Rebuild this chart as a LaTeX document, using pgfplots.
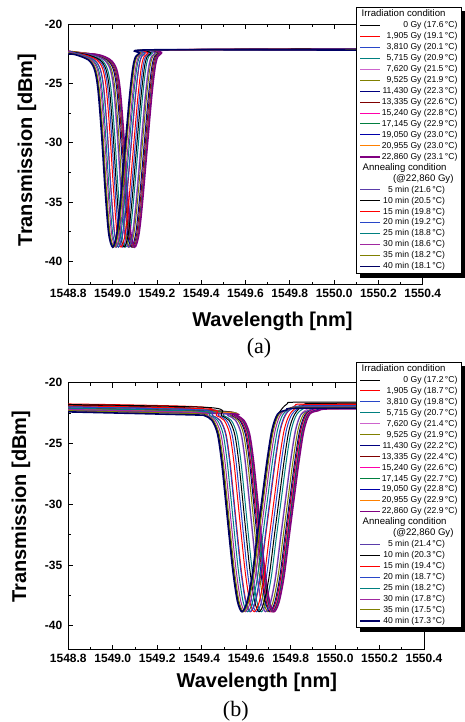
\documentclass[border=0pt]{standalone}
\usepackage{fontspec}
\setmainfont{Liberation Sans}
\newfontfamily\capfont{Liberation Serif}
\usepackage{pgfplots}
\pgfplotsset{compat=1.18}
\definecolor{cRed}{RGB}{255,0,0}
\definecolor{cBlue}{RGB}{40,70,200}
\definecolor{cTeal}{RGB}{0,128,128}
\definecolor{cOrchid}{RGB}{205,100,205}
\definecolor{cOlive}{RGB}{128,128,0}
\definecolor{cNavy}{RGB}{0,0,128}
\definecolor{cWine}{RGB}{128,0,0}
\definecolor{cPink}{RGB}{255,0,170}
\definecolor{cGreen}{RGB}{0,128,64}
\definecolor{cRoyal}{RGB}{0,0,170}
\definecolor{cOrange}{RGB}{255,128,0}
\definecolor{cPurple}{RGB}{128,0,128}
\definecolor{cViolet}{RGB}{90,60,170}
\definecolor{cMag}{RGB}{160,40,160}
\definecolor{cDNavy}{RGB}{0,0,100}
\newcommand\an[1]{#1\hspace*{12.5pt}}
\newcommand\hd[2]{\makebox[0pt][r]{\fontsize{9.6}{9}\selectfont #2\hspace*{#1}}}
\newcommand\labfont{\bfseries\fontsize{20}{20}\selectfont}
\pgfplotsset{
  lw/.style={line width=1pt, smooth, tension=0.5},
  lt/.style={line width=1.6pt, smooth, tension=0.5},
  panel/.style={
    scale only axis, width=354.4pt,
    xmin=1548.8, xmax=1550.4, ymin=-42, ymax=-20,
    scaled x ticks=false, scaled y ticks=false,
    xtick={1548.8,1549.0,1549.2,1549.4,1549.6,1549.8,1550.0,1550.2,1550.4},
    xticklabels={1548.8,1549.0,1549.2,1549.4,1549.6,1549.8,1550.0,1550.2,1550.4},
    ytick={-40,-35,-30,-25,-20},
    yticklabels={-40,-35,-30,-25,-20},
    minor x tick num=1, minor y tick num=1,
    tick align=inside,
    major tick length=5pt, minor tick length=3pt,
    every tick/.style={black, line width=0.8pt},
    axis line style={line width=1pt},
    ticklabel style={font=\bfseries\fontsize{12}{12}\selectfont},
    yticklabel style={xshift=-2.5pt},
    xticklabel style={yshift=-1pt},
    xlabel={\labfont Wavelength [nm]}, ylabel={\labfont Transmission [dBm]},
    every axis x label/.style={anchor=base},
    every axis y label/.style={rotate=90, anchor=center},
    no markers,
    legend cell align=right,
    legend image code/.code={\draw[##1] (0pt,0pt) -- (20pt,0pt);},
    legend style={anchor=north east, draw=black, fill=white, line width=0.8pt,
      inner xsep=3pt, inner ysep=1.5pt, row sep=0pt, column sep=0pt,
      font=\fontsize{8.6}{9}\selectfont,
      nodes={inner xsep=0.8pt, inner ysep=0.75pt, text height=7.2pt, text depth=2.25pt}},
  }
}
\begin{document}
\begin{tikzpicture}
\useasboundingbox (0,0) rectangle (465pt,722pt);
% ---------------- panel (a) ----------------
\begin{axis}[panel, at={(68.3pt,437pt)}, anchor=south west, height=260.7pt,
  xlabel style={at={(axis description cs:0.576,-0.16)}},
  ylabel style={at={(axis description cs:-0.1165,0.518)}},
  legend style={at={(axis description cs:1.110,1.066)}, name=legA}]
\addlegendimage{empty legend}\addlegendentry{\hd{12pt}{Irradiation condition}}
\addplot[black,lw] coordinates {(1548.8,-22.35)(1548.833,-22.55)(1548.893,-23.00)(1548.921,-23.80)(1548.937,-25.50)(1548.953,-29.20)(1548.969,-33.90)(1548.985,-37.60)(1549.003,-38.80)(1549.021,-37.80)(1549.037,-35.20)(1549.061,-30.00)(1549.081,-25.80)(1549.099,-23.20)(1549.123,-22.45)(1549.203,-22.15)(1550.4,-22.10)};
\addlegendentry{0 Gy (17.6\,°C)}
\addplot[cRed,lw] coordinates {(1548.8,-22.25)(1548.857,-22.55)(1548.917,-23.00)(1548.945,-23.80)(1548.961,-25.50)(1548.977,-29.20)(1548.993,-33.90)(1549.009,-37.60)(1549.027,-38.80)(1549.045,-37.80)(1549.061,-35.20)(1549.085,-30.00)(1549.105,-25.80)(1549.123,-23.20)(1549.147,-22.45)(1549.227,-22.15)(1550.4,-22.05)};
\addlegendentry{1,905 Gy (19.1\,°C)}
\addplot[cBlue,lw] coordinates {(1548.8,-22.40)(1548.875,-22.55)(1548.935,-23.00)(1548.963,-23.80)(1548.979,-25.50)(1548.995,-29.20)(1549.011,-33.90)(1549.027,-37.60)(1549.045,-38.80)(1549.063,-37.80)(1549.079,-35.20)(1549.103,-30.00)(1549.123,-25.80)(1549.141,-23.20)(1549.165,-22.45)(1549.245,-22.15)(1550.4,-22.15)};
\addlegendentry{3,810 Gy (20.1\,°C)}
\addplot[cTeal,lw] coordinates {(1548.8,-22.30)(1548.889,-22.55)(1548.949,-23.00)(1548.977,-23.80)(1548.993,-25.50)(1549.009,-29.20)(1549.025,-33.90)(1549.041,-37.60)(1549.059,-38.80)(1549.077,-37.80)(1549.093,-35.20)(1549.117,-30.00)(1549.137,-25.80)(1549.155,-23.20)(1549.179,-22.45)(1549.259,-22.15)(1550.4,-22.10)};
\addlegendentry{5,715 Gy (20.9\,°C)}
\addplot[cOrchid,lw] coordinates {(1548.8,-22.45)(1548.900,-22.55)(1548.960,-23.00)(1548.988,-23.80)(1549.004,-25.50)(1549.020,-29.20)(1549.036,-33.90)(1549.052,-37.60)(1549.070,-38.80)(1549.088,-37.80)(1549.104,-35.20)(1549.128,-30.00)(1549.148,-25.80)(1549.166,-23.20)(1549.190,-22.45)(1549.270,-22.15)(1550.4,-22.20)};
\addlegendentry{7,620 Gy (21.5\,°C)}
\addplot[cOlive,lw] coordinates {(1548.8,-22.30)(1548.907,-22.55)(1548.967,-23.00)(1548.995,-23.80)(1549.011,-25.50)(1549.027,-29.20)(1549.043,-33.90)(1549.059,-37.60)(1549.077,-38.80)(1549.095,-37.80)(1549.111,-35.20)(1549.135,-30.00)(1549.155,-25.80)(1549.173,-23.20)(1549.197,-22.45)(1549.277,-22.15)(1550.4,-22.10)};
\addlegendentry{9,525 Gy (21.9\,°C)}
\addplot[cNavy,lw] coordinates {(1548.8,-22.40)(1548.915,-22.55)(1548.975,-23.00)(1549.003,-23.80)(1549.019,-25.50)(1549.035,-29.20)(1549.051,-33.90)(1549.067,-37.60)(1549.085,-38.80)(1549.103,-37.80)(1549.119,-35.20)(1549.143,-30.00)(1549.163,-25.80)(1549.181,-23.20)(1549.205,-22.45)(1549.285,-22.15)(1550.4,-22.15)};
\addlegendentry{11,430 Gy (22.3\,°C)}
\addplot[cWine,lw] coordinates {(1548.8,-22.25)(1548.920,-22.55)(1548.980,-23.00)(1549.008,-23.80)(1549.024,-25.50)(1549.040,-29.20)(1549.056,-33.90)(1549.072,-37.60)(1549.090,-38.80)(1549.108,-37.80)(1549.124,-35.20)(1549.148,-30.00)(1549.168,-25.80)(1549.186,-23.20)(1549.210,-22.45)(1549.290,-22.15)(1550.4,-22.05)};
\addlegendentry{13,335 Gy (22.6\,°C)}
\addplot[cPink,lw] coordinates {(1548.8,-22.35)(1548.924,-22.55)(1548.984,-23.00)(1549.012,-23.80)(1549.028,-25.50)(1549.044,-29.20)(1549.060,-33.90)(1549.076,-37.60)(1549.094,-38.80)(1549.112,-37.80)(1549.128,-35.20)(1549.152,-30.00)(1549.172,-25.80)(1549.190,-23.20)(1549.214,-22.45)(1549.294,-22.15)(1550.4,-22.10)};
\addlegendentry{15,240 Gy (22.8\,°C)}
\addplot[cGreen,lw] coordinates {(1548.8,-22.30)(1548.925,-22.55)(1548.985,-23.00)(1549.013,-23.80)(1549.029,-25.50)(1549.045,-29.20)(1549.061,-33.90)(1549.077,-37.60)(1549.095,-38.80)(1549.113,-37.80)(1549.129,-35.20)(1549.153,-30.00)(1549.173,-25.80)(1549.191,-23.20)(1549.215,-22.45)(1549.295,-22.15)(1550.4,-22.15)};
\addlegendentry{17,145 Gy (22.9\,°C)}
\addplot[cRoyal,lw] coordinates {(1548.8,-22.45)(1548.927,-22.55)(1548.987,-23.00)(1549.015,-23.80)(1549.031,-25.50)(1549.047,-29.20)(1549.063,-33.90)(1549.079,-37.60)(1549.097,-38.80)(1549.115,-37.80)(1549.131,-35.20)(1549.155,-30.00)(1549.175,-25.80)(1549.193,-23.20)(1549.217,-22.45)(1549.297,-22.15)(1550.4,-22.20)};
\addlegendentry{19,050 Gy (23.0\,°C)}
\addplot[cOrange,lw] coordinates {(1548.8,-22.30)(1548.928,-22.55)(1548.988,-23.00)(1549.016,-23.80)(1549.032,-25.50)(1549.048,-29.20)(1549.064,-33.90)(1549.080,-37.60)(1549.098,-38.80)(1549.116,-37.80)(1549.132,-35.20)(1549.156,-30.00)(1549.176,-25.80)(1549.194,-23.20)(1549.218,-22.45)(1549.298,-22.15)(1550.4,-22.10)};
\addlegendentry{20,955 Gy (23.0\,°C)}
\addplot[cPurple,lt] coordinates {(1548.8,-22.40)(1548.930,-22.55)(1548.990,-23.00)(1549.018,-23.80)(1549.034,-25.50)(1549.050,-29.20)(1549.066,-33.90)(1549.082,-37.60)(1549.100,-38.80)(1549.118,-37.80)(1549.134,-35.20)(1549.158,-30.00)(1549.178,-25.80)(1549.196,-23.20)(1549.220,-22.45)(1549.300,-22.15)(1550.4,-22.15)};
\addlegendentry{22,860 Gy (23.1\,°C)}
\addlegendimage{empty legend}\addlegendentry{\hd{11pt}{Annealing condition}}
\addlegendimage{empty legend}\addlegendentry{\hd{4pt}{(@22,860 Gy)}}
\addplot[cViolet,lw] coordinates {(1548.8,-22.35)(1548.902,-22.55)(1548.962,-23.00)(1548.990,-23.80)(1549.006,-25.50)(1549.022,-29.20)(1549.038,-33.90)(1549.054,-37.60)(1549.072,-38.80)(1549.090,-37.80)(1549.106,-35.20)(1549.130,-30.00)(1549.150,-25.80)(1549.168,-23.20)(1549.192,-22.45)(1549.272,-22.15)(1550.4,-22.10)};
\addlegendentry{\an{5 min (21.6\,°C)}}
\addplot[black,lw] coordinates {(1548.8,-22.30)(1548.882,-22.55)(1548.942,-23.00)(1548.970,-23.80)(1548.986,-25.50)(1549.002,-29.20)(1549.018,-33.90)(1549.034,-37.60)(1549.052,-38.80)(1549.070,-37.80)(1549.086,-35.20)(1549.110,-30.00)(1549.130,-25.80)(1549.148,-23.20)(1549.172,-22.45)(1549.252,-22.15)(1550.4,-22.05)};
\addlegendentry{\an{10 min (20.5\,°C)}}
\addplot[cRed,lw] coordinates {(1548.8,-22.40)(1548.868,-22.55)(1548.928,-23.00)(1548.956,-23.80)(1548.972,-25.50)(1548.988,-29.20)(1549.004,-33.90)(1549.020,-37.60)(1549.038,-38.80)(1549.056,-37.80)(1549.072,-35.20)(1549.096,-30.00)(1549.116,-25.80)(1549.134,-23.20)(1549.158,-22.45)(1549.238,-22.15)(1550.4,-22.15)};
\addlegendentry{\an{15 min (19.8\,°C)}}
\addplot[cBlue,lw] coordinates {(1548.8,-22.25)(1548.856,-22.55)(1548.916,-23.00)(1548.944,-23.80)(1548.960,-25.50)(1548.976,-29.20)(1548.992,-33.90)(1549.008,-37.60)(1549.026,-38.80)(1549.044,-37.80)(1549.060,-35.20)(1549.084,-30.00)(1549.104,-25.80)(1549.122,-23.20)(1549.146,-22.45)(1549.226,-22.15)(1550.4,-22.10)};
\addlegendentry{\an{20 min (19.2\,°C)}}
\addplot[cTeal,lw] coordinates {(1548.8,-22.35)(1548.848,-22.55)(1548.908,-23.00)(1548.936,-23.80)(1548.952,-25.50)(1548.968,-29.20)(1548.984,-33.90)(1549.000,-37.60)(1549.018,-38.80)(1549.036,-37.80)(1549.052,-35.20)(1549.076,-30.00)(1549.096,-25.80)(1549.114,-23.20)(1549.138,-22.45)(1549.218,-22.15)(1550.4,-22.15)};
\addlegendentry{\an{25 min (18.8\,°C)}}
\addplot[cMag,lw] coordinates {(1548.8,-22.30)(1548.843,-22.55)(1548.903,-23.00)(1548.931,-23.80)(1548.947,-25.50)(1548.963,-29.20)(1548.979,-33.90)(1548.995,-37.60)(1549.013,-38.80)(1549.031,-37.80)(1549.047,-35.20)(1549.071,-30.00)(1549.091,-25.80)(1549.109,-23.20)(1549.133,-22.45)(1549.213,-22.15)(1550.4,-22.10)};
\addlegendentry{\an{30 min (18.6\,°C)}}
\addplot[cOlive,lw] coordinates {(1548.8,-22.40)(1548.836,-22.55)(1548.896,-23.00)(1548.924,-23.80)(1548.940,-25.50)(1548.956,-29.20)(1548.972,-33.90)(1548.988,-37.60)(1549.006,-38.80)(1549.024,-37.80)(1549.040,-35.20)(1549.064,-30.00)(1549.084,-25.80)(1549.102,-23.20)(1549.126,-22.45)(1549.206,-22.15)(1550.4,-22.15)};
\addlegendentry{\an{35 min (18.2\,°C)}}
\addplot[cDNavy,lt] coordinates {(1548.8,-22.50)(1548.830,-22.55)(1548.890,-23.00)(1548.918,-23.80)(1548.934,-25.50)(1548.950,-29.20)(1548.966,-33.90)(1548.982,-37.60)(1549.000,-38.80)(1549.018,-37.80)(1549.034,-35.20)(1549.058,-30.00)(1549.078,-25.80)(1549.096,-23.20)(1549.120,-22.45)(1549.200,-22.15)(1550.4,-22.20)};
\addlegendentry{\an{40 min (18.1\,°C)}}
\end{axis}
\fill[black] ([xshift=4pt]legA.south west) rectangle ([xshift=3.5pt,yshift=-4pt]legA.south east);
\fill[black] ([yshift=-4pt]legA.north east) rectangle ([xshift=3.5pt]legA.south east);
% ---------------- panel (b) ----------------
\begin{axis}[panel, at={(68.3pt,72pt)}, anchor=south west, height=267.3pt, width=355.7pt,
  xlabel style={at={(axis description cs:0.53,-0.141)}},
  ylabel style={at={(axis description cs:-0.133,0.536)}},
  legend style={at={(axis description cs:1.106,1.0786)}, name=legB}]
\addlegendimage{empty legend}\addlegendentry{\hd{12pt}{Irradiation condition}}
\addplot[black,lw] coordinates {(1548.8,-21.85)(1549.364,-22.10)(1549.414,-22.70)(1549.449,-23.10)(1549.474,-24.20)(1549.492,-26.40)(1549.509,-29.40)(1549.526,-32.50)(1549.544,-35.60)(1549.564,-38.00)(1549.584,-38.85)(1549.606,-38.10)(1549.629,-36.00)(1549.652,-32.70)(1549.674,-29.60)(1549.697,-26.40)(1549.719,-23.90)(1549.744,-22.60)(1549.784,-21.75)(1549.844,-21.60)(1550.4,-21.60)};
\addlegendentry{0 Gy (17.2\,°C)}
\addplot[cRed,lw] coordinates {(1548.8,-21.75)(1549.399,-22.00)(1549.449,-22.70)(1549.484,-23.10)(1549.509,-24.20)(1549.527,-26.40)(1549.544,-29.40)(1549.561,-32.50)(1549.579,-35.60)(1549.599,-38.00)(1549.619,-38.85)(1549.641,-38.10)(1549.664,-36.00)(1549.687,-32.70)(1549.709,-29.60)(1549.732,-26.40)(1549.754,-23.90)(1549.779,-22.60)(1549.819,-21.90)(1549.879,-21.75)(1550.4,-21.75)};
\addlegendentry{1,905 Gy (18.7\,°C)}
\addplot[cBlue,lw] coordinates {(1548.8,-21.95)(1549.426,-22.20)(1549.476,-22.70)(1549.511,-23.10)(1549.536,-24.20)(1549.554,-26.40)(1549.571,-29.40)(1549.588,-32.50)(1549.606,-35.60)(1549.626,-38.00)(1549.646,-38.85)(1549.668,-38.10)(1549.691,-36.00)(1549.714,-32.70)(1549.736,-29.60)(1549.759,-26.40)(1549.781,-23.90)(1549.806,-22.60)(1549.846,-22.00)(1549.906,-21.85)(1550.4,-21.85)};
\addlegendentry{3,810 Gy (19.8\,°C)}
\addplot[cTeal,lw] coordinates {(1548.8,-22.00)(1549.448,-22.25)(1549.498,-22.70)(1549.533,-23.10)(1549.558,-24.20)(1549.576,-26.40)(1549.593,-29.40)(1549.610,-32.50)(1549.628,-35.60)(1549.648,-38.00)(1549.668,-38.85)(1549.690,-38.10)(1549.713,-36.00)(1549.736,-32.70)(1549.758,-29.60)(1549.781,-26.40)(1549.803,-23.90)(1549.828,-22.60)(1549.868,-22.05)(1549.928,-21.90)(1550.4,-21.90)};
\addlegendentry{5,715 Gy (20.7\,°C)}
\addplot[cOrchid,lw] coordinates {(1548.8,-22.05)(1549.466,-22.30)(1549.516,-22.70)(1549.551,-23.10)(1549.576,-24.20)(1549.594,-26.40)(1549.611,-29.40)(1549.628,-32.50)(1549.646,-35.60)(1549.666,-38.00)(1549.686,-38.85)(1549.708,-38.10)(1549.731,-36.00)(1549.754,-32.70)(1549.776,-29.60)(1549.799,-26.40)(1549.821,-23.90)(1549.846,-22.60)(1549.886,-22.10)(1549.946,-21.95)(1550.4,-21.95)};
\addlegendentry{7,620 Gy (21.4\,°C)}
\addplot[cOlive,lw] coordinates {(1548.8,-22.10)(1549.478,-22.35)(1549.528,-22.70)(1549.563,-23.10)(1549.588,-24.20)(1549.606,-26.40)(1549.623,-29.40)(1549.640,-32.50)(1549.658,-35.60)(1549.678,-38.00)(1549.698,-38.85)(1549.720,-38.10)(1549.743,-36.00)(1549.766,-32.70)(1549.788,-29.60)(1549.811,-26.40)(1549.833,-23.90)(1549.858,-22.60)(1549.898,-22.15)(1549.958,-22.00)(1550.4,-22.00)};
\addlegendentry{9,525 Gy (21.9\,°C)}
\addplot[cNavy,lw] coordinates {(1548.8,-22.15)(1549.486,-22.40)(1549.536,-22.70)(1549.571,-23.10)(1549.596,-24.20)(1549.614,-26.40)(1549.631,-29.40)(1549.648,-32.50)(1549.666,-35.60)(1549.686,-38.00)(1549.706,-38.85)(1549.728,-38.10)(1549.751,-36.00)(1549.774,-32.70)(1549.796,-29.60)(1549.819,-26.40)(1549.841,-23.90)(1549.866,-22.60)(1549.906,-22.15)(1549.966,-22.00)(1550.4,-22.00)};
\addlegendentry{11,430 Gy (22.2\,°C)}
\addplot[cWine,lw] coordinates {(1548.8,-22.10)(1549.491,-22.35)(1549.541,-22.70)(1549.576,-23.10)(1549.601,-24.20)(1549.619,-26.40)(1549.636,-29.40)(1549.653,-32.50)(1549.671,-35.60)(1549.691,-38.00)(1549.711,-38.85)(1549.733,-38.10)(1549.756,-36.00)(1549.779,-32.70)(1549.801,-29.60)(1549.824,-26.40)(1549.846,-23.90)(1549.871,-22.60)(1549.911,-22.20)(1549.971,-22.05)(1550.4,-22.05)};
\addlegendentry{13,335 Gy (22.4\,°C)}
\addplot[cPink,lt] coordinates {(1548.8,-22.20)(1549.496,-22.45)(1549.546,-22.70)(1549.581,-23.10)(1549.606,-24.20)(1549.624,-26.40)(1549.641,-29.40)(1549.658,-32.50)(1549.676,-35.60)(1549.696,-38.00)(1549.716,-38.85)(1549.738,-38.10)(1549.761,-36.00)(1549.784,-32.70)(1549.806,-29.60)(1549.829,-26.40)(1549.851,-23.90)(1549.876,-22.60)(1549.916,-22.20)(1549.976,-22.05)(1550.4,-22.05)};
\addlegendentry{15,240 Gy (22.6\,°C)}
\addplot[cGreen,lw] coordinates {(1548.8,-22.15)(1549.498,-22.40)(1549.548,-22.70)(1549.583,-23.10)(1549.608,-24.20)(1549.626,-26.40)(1549.643,-29.40)(1549.660,-32.50)(1549.678,-35.60)(1549.698,-38.00)(1549.718,-38.85)(1549.740,-38.10)(1549.763,-36.00)(1549.786,-32.70)(1549.808,-29.60)(1549.831,-26.40)(1549.853,-23.90)(1549.878,-22.60)(1549.918,-22.25)(1549.978,-22.10)(1550.4,-22.10)};
\addlegendentry{17,145 Gy (22.7\,°C)}
\addplot[cRoyal,lw] coordinates {(1548.8,-22.25)(1549.501,-22.50)(1549.551,-22.70)(1549.586,-23.10)(1549.611,-24.20)(1549.629,-26.40)(1549.646,-29.40)(1549.663,-32.50)(1549.681,-35.60)(1549.701,-38.00)(1549.721,-38.85)(1549.743,-38.10)(1549.766,-36.00)(1549.789,-32.70)(1549.811,-29.60)(1549.834,-26.40)(1549.856,-23.90)(1549.881,-22.60)(1549.921,-22.25)(1549.981,-22.10)(1550.4,-22.10)};
\addlegendentry{19,050 Gy (22.8\,°C)}
\addplot[cOrange,lw] coordinates {(1548.8,-22.20)(1549.503,-22.45)(1549.553,-22.70)(1549.588,-23.10)(1549.613,-24.20)(1549.631,-26.40)(1549.648,-29.40)(1549.665,-32.50)(1549.683,-35.60)(1549.703,-38.00)(1549.723,-38.85)(1549.745,-38.10)(1549.768,-36.00)(1549.791,-32.70)(1549.813,-29.60)(1549.836,-26.40)(1549.858,-23.90)(1549.883,-22.60)(1549.923,-22.30)(1549.983,-22.15)(1550.4,-22.15)};
\addlegendentry{20,955 Gy (22.9\,°C)}
\addplot[cPurple,lt] coordinates {(1548.8,-22.30)(1549.505,-22.55)(1549.555,-22.70)(1549.590,-23.10)(1549.615,-24.20)(1549.633,-26.40)(1549.650,-29.40)(1549.667,-32.50)(1549.685,-35.60)(1549.705,-38.00)(1549.725,-38.85)(1549.747,-38.10)(1549.770,-36.00)(1549.793,-32.70)(1549.815,-29.60)(1549.838,-26.40)(1549.860,-23.90)(1549.885,-22.60)(1549.925,-22.30)(1549.985,-22.15)(1550.4,-22.15)};
\addlegendentry{22,860 Gy (22.9\,°C)}
\addlegendimage{empty legend}\addlegendentry{\hd{11pt}{Annealing condition}}
\addlegendimage{empty legend}\addlegendentry{\hd{4pt}{(@22,860 Gy)}}
\addplot[cViolet,lw] coordinates {(1548.8,-22.25)(1549.468,-22.50)(1549.518,-22.70)(1549.553,-23.10)(1549.578,-24.20)(1549.596,-26.40)(1549.613,-29.40)(1549.630,-32.50)(1549.648,-35.60)(1549.668,-38.00)(1549.688,-38.85)(1549.710,-38.10)(1549.733,-36.00)(1549.756,-32.70)(1549.778,-29.60)(1549.801,-26.40)(1549.823,-23.90)(1549.848,-22.60)(1549.888,-22.25)(1549.948,-22.10)(1550.4,-22.10)};
\addlegendentry{\an{5 min (21.4\,°C)}}
\addplot[black,lw] coordinates {(1548.8,-21.80)(1549.438,-22.05)(1549.488,-22.70)(1549.523,-23.10)(1549.548,-24.20)(1549.566,-26.40)(1549.583,-29.40)(1549.600,-32.50)(1549.618,-35.60)(1549.638,-38.00)(1549.658,-38.85)(1549.680,-38.10)(1549.703,-36.00)(1549.726,-32.70)(1549.748,-29.60)(1549.771,-26.40)(1549.793,-23.90)(1549.818,-22.60)(1549.858,-21.85)(1549.918,-21.70)(1550.4,-21.70)};
\addlegendentry{\an{10 min (20.3\,°C)}}
\addplot[cRed,lw] coordinates {(1548.8,-21.90)(1549.416,-22.15)(1549.466,-22.70)(1549.501,-23.10)(1549.526,-24.20)(1549.544,-26.40)(1549.561,-29.40)(1549.578,-32.50)(1549.596,-35.60)(1549.616,-38.00)(1549.636,-38.85)(1549.658,-38.10)(1549.681,-36.00)(1549.704,-32.70)(1549.726,-29.60)(1549.749,-26.40)(1549.771,-23.90)(1549.796,-22.60)(1549.836,-21.95)(1549.896,-21.80)(1550.4,-21.80)};
\addlegendentry{\an{15 min (19.4\,°C)}}
\addplot[cBlue,lw] coordinates {(1548.8,-22.00)(1549.397,-22.25)(1549.447,-22.70)(1549.482,-23.10)(1549.507,-24.20)(1549.525,-26.40)(1549.542,-29.40)(1549.559,-32.50)(1549.577,-35.60)(1549.597,-38.00)(1549.617,-38.85)(1549.639,-38.10)(1549.662,-36.00)(1549.685,-32.70)(1549.707,-29.60)(1549.730,-26.40)(1549.752,-23.90)(1549.777,-22.60)(1549.817,-22.05)(1549.877,-21.90)(1550.4,-21.90)};
\addlegendentry{\an{20 min (18.7\,°C)}}
\addplot[cTeal,lw] coordinates {(1548.8,-22.10)(1549.386,-22.35)(1549.436,-22.70)(1549.471,-23.10)(1549.496,-24.20)(1549.514,-26.40)(1549.531,-29.40)(1549.548,-32.50)(1549.566,-35.60)(1549.586,-38.00)(1549.606,-38.85)(1549.628,-38.10)(1549.651,-36.00)(1549.674,-32.70)(1549.696,-29.60)(1549.719,-26.40)(1549.741,-23.90)(1549.766,-22.60)(1549.806,-22.10)(1549.866,-21.95)(1550.4,-21.95)};
\addlegendentry{\an{25 min (18.2\,°C)}}
\addplot[cMag,lw] coordinates {(1548.8,-22.20)(1549.376,-22.45)(1549.426,-22.70)(1549.461,-23.10)(1549.486,-24.20)(1549.504,-26.40)(1549.521,-29.40)(1549.538,-32.50)(1549.556,-35.60)(1549.576,-38.00)(1549.596,-38.85)(1549.618,-38.10)(1549.641,-36.00)(1549.664,-32.70)(1549.686,-29.60)(1549.709,-26.40)(1549.731,-23.90)(1549.756,-22.60)(1549.796,-22.15)(1549.856,-22.00)(1550.4,-22.00)};
\addlegendentry{\an{30 min (17.8\,°C)}}
\addplot[cOlive,lw] coordinates {(1548.8,-22.30)(1549.368,-22.55)(1549.418,-22.70)(1549.453,-23.10)(1549.478,-24.20)(1549.496,-26.40)(1549.513,-29.40)(1549.530,-32.50)(1549.548,-35.60)(1549.568,-38.00)(1549.588,-38.85)(1549.610,-38.10)(1549.633,-36.00)(1549.656,-32.70)(1549.678,-29.60)(1549.701,-26.40)(1549.723,-23.90)(1549.748,-22.60)(1549.788,-22.20)(1549.848,-22.05)(1550.4,-22.05)};
\addlegendentry{\an{35 min (17.5\,°C)}}
\addplot[cDNavy,lt] coordinates {(1548.8,-22.40)(1549.361,-22.65)(1549.411,-22.70)(1549.446,-23.10)(1549.471,-24.20)(1549.489,-26.40)(1549.506,-29.40)(1549.523,-32.50)(1549.541,-35.60)(1549.561,-38.00)(1549.581,-38.85)(1549.603,-38.10)(1549.626,-36.00)(1549.649,-32.70)(1549.671,-29.60)(1549.694,-26.40)(1549.716,-23.90)(1549.741,-22.60)(1549.781,-22.25)(1549.841,-22.10)(1550.4,-22.10)};
\addlegendentry{\an{40 min (17.3\,°C)}}
\end{axis}
\fill[black] ([xshift=4pt]legB.south west) rectangle ([xshift=3.5pt,yshift=-4pt]legB.south east);
\fill[black] ([yshift=-4pt]legB.north east) rectangle ([xshift=3.5pt]legB.south east);
\node[font=\capfont\fontsize{22}{22}\selectfont, anchor=base] at (259pt,368pt) {(a)};
\node[font=\capfont\fontsize{22}{22}\selectfont, anchor=base] at (235.8pt,5.3pt) {(b)};
\end{tikzpicture}
\end{document}
